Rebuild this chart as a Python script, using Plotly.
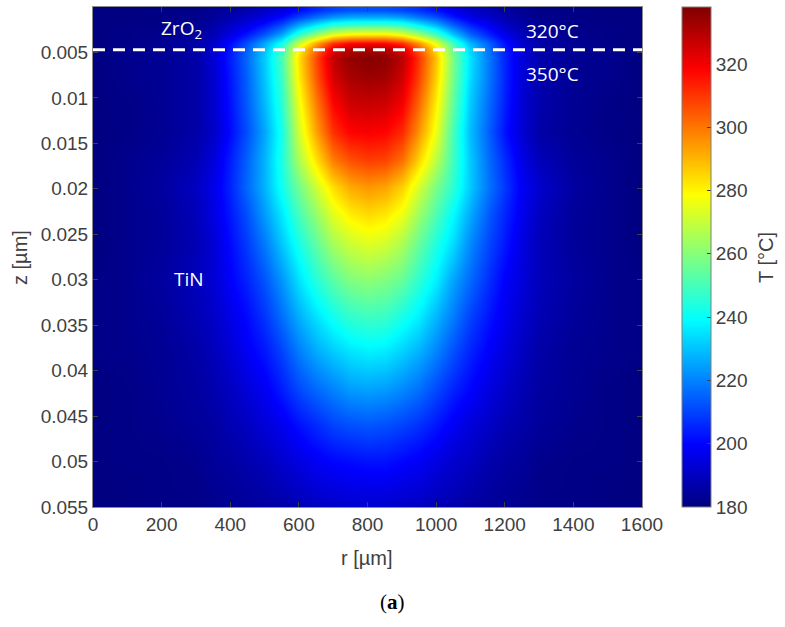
import plotly.graph_objects as go

# radial positions [µm]
r_grid = [0, 100, 200, 300, 350, 400, 450, 500, 550, 600, 650, 700, 750, 800,
          850, 900, 950, 1000, 1050, 1100, 1150, 1200, 1250, 1300, 1400, 1500, 1600]
# depth positions [µm]
z_grid = [0.0003, 0.0011, 0.002, 0.003, 0.004, 0.0046, 0.0056, 0.0076, 0.0106, 0.0137,
          0.0168, 0.0198, 0.0229, 0.026, 0.030, 0.034, 0.038, 0.042, 0.046, 0.050, 0.055]
# temperature [°C], one row per depth
T_values = [
    [180,180,181,181,183,185,187,191,194,201,206,210,212,212,212,210,207,202,196,191,188,185,183,181,181,180,180],
    [180,180,181,182,184,187,191,195,201,210,217,223,226,226,226,224,218,212,203,196,192,187,184,182,181,180,180],
    [180,181,181,183,186,191,196,203,212,226,237,246,249,250,250,247,238,228,215,205,198,191,186,183,181,181,180],
    [180,181,182,184,188,195,203,213,225,246,261,274,279,280,280,275,263,249,230,215,205,196,189,185,182,181,180],
    [180,181,183,186,191,201,212,226,242,271,292,310,317,318,317,311,295,275,249,228,215,202,192,186,183,181,180],
    [180,182,183,186,192,203,215,230,248,280,302,322,329,331,330,323,305,284,255,233,218,204,194,187,183,182,180],
    [180,182,183,186,193,204,216,232,251,284,307,328,335,337,336,329,310,288,258,235,219,205,194,187,183,182,180],
    [180,182,183,186,192,203,215,231,249,282,305,325,332,334,333,326,308,286,257,234,219,205,194,187,183,182,180],
    [180,181,183,186,192,202,214,229,246,277,299,318,326,327,326,320,302,281,254,231,217,204,193,187,183,181,180],
    [180,181,183,186,191,201,212,226,243,272,293,311,318,319,318,312,295,276,250,229,215,202,193,186,183,181,180],
    [180,182,184,188,194,204,215,228,244,266,283,299,306,309,308,301,285,268,249,231,217,206,196,189,184,182,180],
    [180,182,185,190,196,205,216,228,242,257,271,284,292,295,293,286,272,258,246,231,218,208,198,192,185,182,180],
    [180,182,184,189,195,203,212,224,236,250,262,274,281,284,282,276,263,251,239,226,214,205,197,190,184,182,180],
    [180,182,184,188,193,201,209,219,231,243,254,265,271,274,272,266,255,244,234,221,211,203,195,189,184,182,180],
    [181,182,185,189,193,199,205,213,223,235,245,253,259,261,259,255,246,237,225,216,207,199,194,189,185,182,181],
    [181,182,184,188,191,196,201,208,217,227,235,242,247,249,248,243,237,228,219,210,203,197,192,188,184,182,181],
    [181,182,183,186,189,193,198,203,210,219,226,231,235,237,236,232,227,220,212,205,199,194,190,186,183,182,181],
    [180,181,183,185,187,190,194,198,204,211,216,220,224,225,224,221,217,211,205,200,195,191,188,185,183,181,180],
    [180,181,182,184,185,188,190,194,197,202,206,210,212,213,212,210,207,203,198,194,191,188,186,184,182,181,180],
    [180,181,181,182,184,185,187,189,192,195,198,200,201,202,202,200,198,195,192,190,187,185,184,182,181,181,180],
    [180,180,181,181,182,183,184,185,186,188,190,191,192,192,192,191,190,188,187,185,184,183,182,181,181,180,180],
]

# interface line between layers
layer_r = [0, 1600]
layer_z = [0.0047, 0.0047]

x_ticks = [0, 200, 400, 600, 800, 1000, 1200, 1400, 1600]
y_ticks = [0.005, 0.01, 0.015, 0.02, 0.025, 0.03, 0.035, 0.04, 0.045, 0.05, 0.055]
y_labels = ["0.005", "0.01", "0.015", "0.02", "0.025", "0.03", "0.035", "0.04", "0.045", "0.05", "0.055"]
cb_ticks = [180, 200, 220, 240, 260, 280, 300, 320]

jet = [[0.0, "rgb(0,0,128)"], [0.125, "rgb(0,0,255)"], [0.375, "rgb(0,255,255)"],
       [0.625, "rgb(255,255,0)"], [0.875, "rgb(255,0,0)"], [1.0, "rgb(128,0,0)"]]

W, H = 785, 627
L, R, T, B = 93, 143, 7, 120
pw, ph = W - L - R, H - T - B

def px(x):
    return (x - L) / pw

def py(y):
    return (H - B - y) / ph

tick_font = dict(family="Liberation Sans, Arial, sans-serif", size=19, color="#404040")
title_font = dict(family="Liberation Sans, Arial, sans-serif", size=20, color="#404040")
label_font = dict(family="Open Sans, sans-serif", size=19, color="white")

fig = go.Figure()
fig.add_trace(go.Heatmap(
    x=r_grid, y=z_grid, z=T_values, zsmooth="best",
    colorscale=jet, zmin=180, zmax=338,
    colorbar=dict(
        x=px(682), xanchor="left", xpad=0, y=0.5, yanchor="middle", ypad=0,
        len=1, lenmode="fraction", thickness=29,
        tickvals=cb_ticks, ticks="inside", ticklen=4, tickcolor="#404040",
        tickfont=tick_font, outlinewidth=1, outlinecolor="#7f7f7f",
    ),
    hoverinfo="skip",
))
fig.add_trace(go.Scatter(
    x=layer_r, y=layer_z, mode="lines",
    line=dict(color="white", width=3, dash="12px,8px"),
    showlegend=False, hoverinfo="skip",
))

fig.update_xaxes(
    range=[0, 1600], tickvals=x_ticks, ticks="inside", ticklen=5, tickcolor="#404040",
    showline=True, linecolor="#8a8a8a", linewidth=1, mirror="ticks",
    showgrid=False, zeroline=False, tickfont=tick_font,
)
fig.update_yaxes(
    range=[0.055, 0], tickvals=y_ticks, ticktext=y_labels, ticks="inside", ticklen=5,
    tickcolor="#404040", showline=True, linecolor="#8a8a8a", linewidth=1, mirror="ticks",
    showgrid=False, zeroline=False, tickfont=tick_font,
)

def note(x, y, text, font, ref="data", angle=0):
    d = dict(x=x, y=y, text=text, font=font, showarrow=False,
             xanchor="center", yanchor="middle", textangle=angle)
    if ref == "data":
        d.update(xref="x", yref="y")
    else:
        d.update(xref="paper", yref="paper")
    return d

ann = [
    note(258, 0.0024, "ZrO<sub>2</sub>", label_font),
    note(1338, 0.0026, "320°C", label_font),
    note(1338, 0.0074, "350°C", label_font),
    note(280, 0.0299, "TiN", label_font),
    note(px(367), py(558), "r [µm]", title_font, ref="paper"),
    note(px(20), py(258), "z [µm]", title_font, ref="paper", angle=-90),
    note(px(766), py(258), "T [°C]", title_font, ref="paper", angle=-90),
    note(px(392), py(602), "(<b>a</b>)",
         dict(family="Liberation Serif, DejaVu Serif, serif", size=21, color="black"), ref="paper"),
]

fig.update_layout(
    width=W, height=H, margin=dict(l=L, r=R, t=T, b=B),
    paper_bgcolor="white", plot_bgcolor="white",
    annotations=ann, showlegend=False,
)

fig.write_html("out.html")
